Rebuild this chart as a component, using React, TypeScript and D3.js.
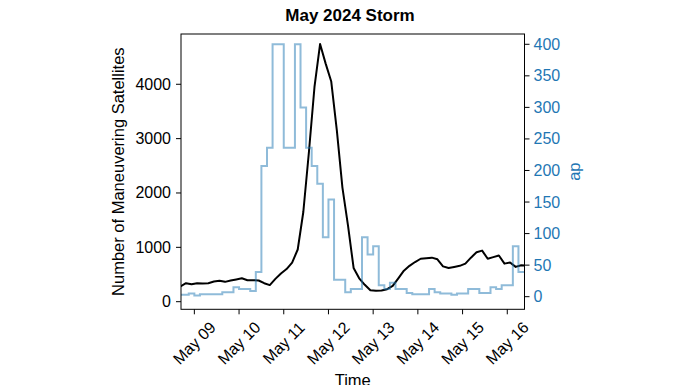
import React from "react";
import * as d3 from "d3";

// ---- data ----
// ap index, 3-hourly, starting 2024-05-08 15:00 UTC (step-after)
const apStart = Date.UTC(2024, 4, 8, 15, 0);
const apValues = [
  3, 3, 5,
  2, 4, 4, 4, 4, 7, 7, 15,
  12, 12, 9, 39, 207, 236, 400, 400,
  236, 236, 400, 300, 236, 207, 179, 94,
  154, 27, 27, 7, 12, 12, 94, 67,
  80, 18, 12, 22, 12, 12, 6, 4,
  4, 4, 12, 7, 5, 5, 3, 5,
  5, 12, 12, 6, 6, 15, 12, 18,
  18, 80, 39, 39,
];

// maneuvering satellites, 3-hourly starting 2024-05-08 16:30 UTC
const satStart = Date.UTC(2024, 4, 8, 16, 30);
const satValues = [
  280, 340, 320, 340, 335, 340, 370, 385, 365, 390,
  410, 430, 395, 395, 390, 340, 305, 420, 520, 600,
  720, 960, 1650, 2750, 3950, 4740, 4380, 4050, 3150, 2100,
  1400, 620, 430, 310, 210, 200, 205, 230, 290, 430,
  570, 660, 730, 790, 800, 810, 780, 650, 620, 640,
  660, 700, 810, 910, 940, 790, 820, 850, 700, 720,
  640, 670, 665,
];

const xTickDays = [9, 10, 11, 12, 13, 14, 15, 16];
const xTickLabels = ["May 09", "May 10", "May 11", "May 12", "May 13", "May 14", "May 15", "May 16"];
const leftTicks = [0, 1000, 2000, 3000, 4000];
const rightTicks = [0, 50, 100, 150, 200, 250, 300, 350, 400];

const H3 = 3 * 3600 * 1000;

export default function App() {
  const W = 696, Hh = 385;
  const left = 181, right = 524.5, top = 34, bottom = 309.3;

  const x = d3.scaleUtc()
    .domain([new Date(Date.UTC(2024, 4, 8, 16, 50)), new Date(Date.UTC(2024, 4, 16, 9, 15))])
    .range([left, right]);
  const yL = d3.scaleLinear().domain([-140, 4925]).range([bottom, top]);
  const yR = d3.scaleLinear().domain([-20, 416.3]).range([bottom, top]);

  const apPts: [number, number][] = apValues.map((v, i) => [apStart + i * H3, v]);
  apPts.push([apStart + apValues.length * H3, apValues[apValues.length - 1]]);
  const apLine = d3.line<[number, number]>()
    .x(d => x(new Date(d[0])))
    .y(d => yR(d[1]))
    .curve(d3.curveStepAfter)(apPts) || "";

  const satPts: [number, number][] = satValues.map((v, i) => [satStart + i * H3, v]);
  const satLine = d3.line<[number, number]>()
    .x(d => x(new Date(d[0])))
    .y(d => yL(d[1]))(satPts) || "";

  const font = "'Liberation Sans', Arial, sans-serif";
  const blue = "#1f77b4";

  return (
    <svg width={W} height={Hh} style={{ position: "absolute", left: 0, top: 0, background: "#fff" }}
      fontFamily={font}>
      <defs>
        <clipPath id="plotclip">
          <rect x={left} y={top} width={right - left} height={bottom - top} />
        </clipPath>
      </defs>
      <rect x={0} y={0} width={W} height={Hh} fill="#fff" />

      <g clipPath="url(#plotclip)">
        <path d={satLine} fill="none" stroke="#000" strokeWidth={2} strokeLinejoin="round" />
        <path d={apLine} fill="none" stroke={blue} strokeOpacity={0.5} strokeWidth={2} />
      </g>

      {/* spines */}
      <rect x={left} y={top} width={right - left} height={bottom - top} fill="none" stroke="#000" strokeWidth={1} />

      {/* x ticks */}
      {xTickDays.map((d, i) => {
        const xp = x(new Date(Date.UTC(2024, 4, d)));
        return (
          <g key={"x" + d}>
            <line x1={xp} x2={xp} y1={bottom} y2={bottom + 5} stroke="#000" strokeWidth={1} />
            <text x={0} y={0} fontSize={16} textAnchor="middle" dominantBaseline="central"
              transform={`translate(${xp},${343}) rotate(-45)`}>{xTickLabels[i]}</text>
          </g>
        );
      })}

      {/* left ticks */}
      {leftTicks.map(t => {
        const yp = yL(t);
        return (
          <g key={"l" + t}>
            <line x1={left - 5} x2={left} y1={yp} y2={yp} stroke="#000" strokeWidth={1} />
            <text x={left - 10} y={yp} fontSize={16} textAnchor="end" dominantBaseline="central">{t}</text>
          </g>
        );
      })}

      {/* right ticks */}
      {rightTicks.map(t => {
        const yp = yR(t);
        return (
          <g key={"r" + t}>
            <line x1={right} x2={right + 5} y1={yp} y2={yp} stroke="#000" strokeWidth={1} />
            <text x={right + 9} y={yp} fontSize={16} textAnchor="start" dominantBaseline="central" fill={blue}>{t}</text>
          </g>
        );
      })}

      {/* labels */}
      <text x={350} y={21} fontSize={17} fontWeight="bold" textAnchor="middle">May 2024 Storm</text>
      <text fontSize={16.5} textAnchor="middle" transform={`translate(124,${(top + bottom) / 2}) rotate(-90)`}>
        Number of Maneuvering Satellites
      </text>
      <text fontSize={16.5} textAnchor="middle" transform={`translate(580,${(top + bottom) / 2}) rotate(-90)`} fill={blue}>
        ap
      </text>
      <text x={(left + right) / 2} y={386} fontSize={16.5} textAnchor="middle">Time</text>
    </svg>
  );
}
